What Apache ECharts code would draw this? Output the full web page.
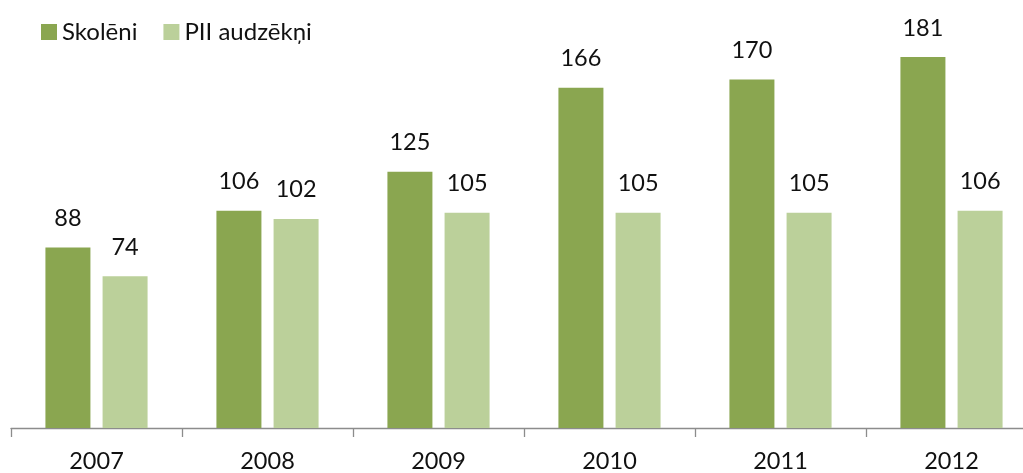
<!DOCTYPE html>
<html><head><meta charset="utf-8">
<script src="https://cdn.jsdelivr.net/npm/echarts@6/dist/echarts.min.js"></script>
<style>html,body{margin:0;padding:0;background:#fff}#c{width:1023px;height:473px}</style>
</head><body><div id="c"></div>
<script>
const categories = ['2007','2008','2009','2010','2011','2012'];
const skoleni = [88,106,125,166,170,181];
const pii = [74,102,105,105,105,106];
const seriesNames = ['Skolēni','PII audzēkņi'];
const chart = echarts.init(document.getElementById('c'));
const font = 'Lato, "Open Sans", sans-serif';
const lbl = {show:true, position:'top', distance:17, color:'#111', fontSize:23.5, fontFamily:font};
chart.setOption({
  animation:false,
  legend:{left:36, top:15, itemWidth:16, itemHeight:16, itemGap:26, icon:'rect',
    textStyle:{fontSize:24, fontFamily:font, color:'#111'}, data:seriesNames},
  grid:{left:11, width:1026, top:18, bottom:45, containLabel:false, outerBoundsMode:'none'},
  xAxis:{type:'category', data:categories,
    axisLine:{lineStyle:{color:'#8c8c8c', width:1.3}},
    axisTick:{show:true, length:9, lineStyle:{color:'#8c8c8c', width:1.3}},
    axisLabel:{fontSize:23.5, fontFamily:font, color:'#111', margin:21}},
  yAxis:{type:'value', min:0, max:200, show:false, splitLine:{show:false}},
  series:[
    {name:seriesNames[0], type:'bar', data:skoleni, barWidth:45, barGap:'27%',
      itemStyle:{color:'#8aa650'}, label:lbl},
    {name:seriesNames[1], type:'bar', data:pii, barWidth:45, barGap:'27%',
      itemStyle:{color:'#bbd09a'}, label:lbl}
  ]
});
</script></body></html>
